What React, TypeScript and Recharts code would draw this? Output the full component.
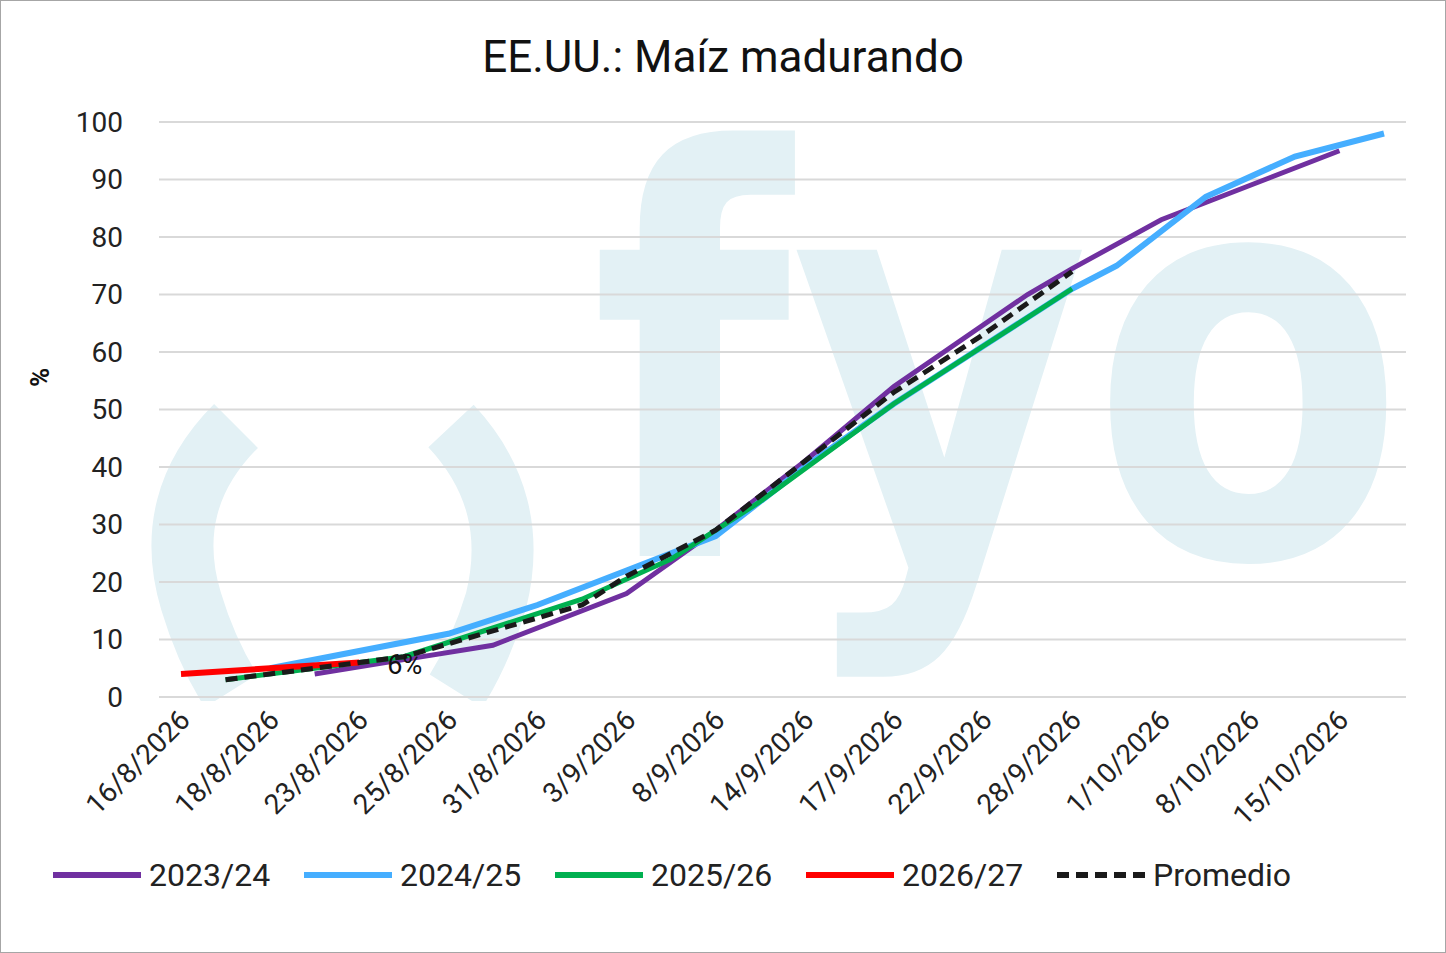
import React from 'react'
import { LineChart, Line, XAxis, YAxis, CartesianGrid, LabelList } from 'recharts'

const dates = [
  '16/8/2026', '17/8/2026', '18/8/2026', '20/8/2026', '23/8/2026', '24/8/2026', '25/8/2026',
  '28/8/2026', '31/8/2026', '1/9/2026', '3/9/2026', '6/9/2026', '8/9/2026', '11/9/2026',
  '14/9/2026', '15/9/2026', '17/9/2026', '20/9/2026', '22/9/2026', '25/9/2026', '28/9/2026',
  '29/9/2026', '1/10/2026', '5/10/2026', '8/10/2026', '12/10/2026', '15/10/2026', '18/10/2026',
]
const s2324 = [null, null, null, 4, null, 6.5, null, 9, null, null, 18, null, 29, null, 41, null, 54, null, null, 70, 74.5, null, 83, 86, 89, null, 95, null]
const s2425 = [null, null, 5, null, null, null, 11, null, 16, null, 22, null, 28, null, 40, null, 51, null, 61, null, 71, 75, null, 87, null, 94, null, 98]
const s2526 = [null, 3, null, 5, null, 7, null, 12, null, 17, null, 24, null, 34, null, null, 51, null, 61, null, 71, null, null, null, null, null, null, null]
const s2627 = [4, null, 5, null, 6, null, null, null, null, null, null, null, null, null, null, null, null, null, null, null, null, null, null, null, null, null, null, null]
const promedio = [null, 3, null, 5, null, 7, null, 11.5, null, 16, 21, null, 29, null, 41, null, 53, null, 63, null, 74, null, null, null, null, null, null, null]
const yTicks = [0, 10, 20, 30, 40, 50, 60, 70, 80, 90, 100]

const data = dates.map((d, i) => ({
  d,
  a: s2324[i],
  b: s2425[i],
  c: s2526[i],
  r: s2627[i],
  p: promedio[i],
}))

const font = '"Liberation Sans Narrow", Roboto, sans-serif'

const legend = [
  { name: '2023/24', color: '#7030a0', dash: false },
  { name: '2024/25', color: '#45aeff', dash: false },
  { name: '2025/26', color: '#00b050', dash: false },
  { name: '2026/27', color: '#ff0000', dash: false },
  { name: 'Promedio', color: '#1a1a1a', dash: true },
]

const XTick = (props: any) => {
  const { x, y, payload } = props
  return (
    <text x={x + 4} y={y + 10} transform={`rotate(-45 ${x + 4} ${y + 10})`} textAnchor="end"
      dominantBaseline="central" fontSize={28} fill="#222" fontFamily={font}>
      {payload.value}
    </text>
  )
}

const RedLabel = (props: any) => {
  const { x, y, index } = props
  if (index !== 4) return null
  return (
    <text x={x + 28} y={y + 2} fontSize={27} fill="#111" fontFamily={font} dominantBaseline="central">6%</text>
  )
}

export default function App() {
  return (
    <div style={{ position: 'absolute', left: 0, top: 0, width: 1444, height: 951, border: '1px solid #a6a6a6', background: '#fff', fontFamily: font, overflow: 'hidden' }}>
      <svg width={1444} height={951} style={{ position: 'absolute', left: 0, top: 0 }}>
        <defs>
          <clipPath id="plot"><rect x={150} y={100} width={1256} height={600} /></clipPath>
        </defs>
        <g fill="none" stroke="#e3f1f5" strokeWidth={62} clipPath="url(#plot)">
          <path d="M 235 425 Q 160 500 190 600 Q 205 650 230 690" />
          <path d="M 450 425 Q 520 500 495 600 Q 480 650 455 690" />
        </g>
        <text x={590} y={555} fontSize={560} fontWeight="bold" fill="#e3f1f5" fontFamily="'DejaVu Sans', sans-serif"
          textLength={815} lengthAdjust="spacingAndGlyphs" clipPath="url(#plot)">fyo</text>
      </svg>
      <div style={{ position: 'absolute', top: 30, width: '100%', textAlign: 'center', fontSize: 44, color: '#111' }}>
        EE.UU.: Maíz madurando
      </div>
      <div style={{ position: 'absolute', left: 24, top: 372, transform: 'rotate(-90deg)', transformOrigin: 'left top', fontSize: 26, fontWeight: 'bold', color: '#111' }}>
        <span style={{ position: 'relative', left: -14 }}>%</span>
      </div>
      <LineChart width={1444} height={951} data={data} margin={{ top: 121, right: 39, left: 0, bottom: 75 }} style={{ position: 'absolute', left: 0, top: 0 }}>
        <CartesianGrid vertical={false} stroke="#d9d9d9" strokeWidth={2} />
        <XAxis dataKey="d" height={180} interval={1} tick={<XTick />} axisLine={false} tickLine={false} padding={{ left: 22, right: 22 }} />
        <YAxis width={158} domain={[0, 100]} ticks={yTicks} axisLine={false} tickLine={false}
          tick={{ fontSize: 28, fill: '#222', fontFamily: font }} dx={-28} />
        <Line dataKey="a" stroke="#7030a0" strokeWidth={5} dot={false} connectNulls isAnimationActive={false} />
        <Line dataKey="b" stroke="#45aeff" strokeWidth={6} dot={false} connectNulls isAnimationActive={false} />
        <Line dataKey="c" stroke="#00b050" strokeWidth={5} dot={false} connectNulls isAnimationActive={false} />
        <Line dataKey="r" stroke="#ff0000" strokeWidth={6} dot={false} connectNulls isAnimationActive={false}>
          <LabelList dataKey="r" content={<RedLabel />} />
        </Line>
        <Line dataKey="p" stroke="#1a1a1a" strokeWidth={5} strokeDasharray="12 7" dot={false} connectNulls isAnimationActive={false} />
      </LineChart>
      <div style={{ position: 'absolute', top: 855, left: 50, display: 'flex', fontSize: 32, color: '#222' }}>
        {legend.map(l => (
          <div key={l.name} style={{ display: 'flex', alignItems: 'center', width: 251 }}>
            <svg width={92} height={10}>
              <line x1={2} y1={5} x2={90} y2={5} stroke={l.color} strokeWidth={6} strokeDasharray={l.dash ? '12 7' : undefined} />
            </svg>
            <span style={{ marginLeft: 6 }}>{l.name}</span>
          </div>
        ))}
      </div>
    </div>
  )
}
